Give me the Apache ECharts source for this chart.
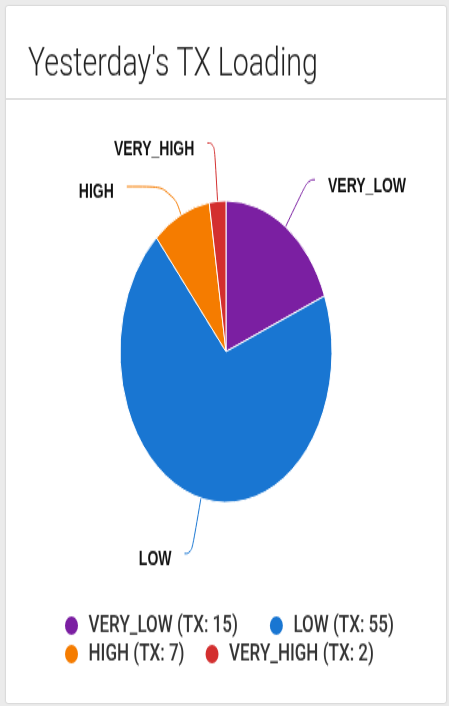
<!DOCTYPE html>
<html>
<head>
<meta charset="utf-8">
<script src="https://cdn.jsdelivr.net/npm/echarts@6/dist/echarts.min.js"></script>
<style>
  html, body { margin: 0; padding: 0; background: #ebebeb; }
  #page { position: relative; width: 449px; height: 706px; overflow: hidden; background: #ebebeb; }
  #card { position: absolute; left: 6px; top: 6px; width: 440px; height: 697px; background: #fff;
          border-radius: 2px; box-shadow: 0 0 2px rgba(0,0,0,0.25); }
  #sep { position: absolute; left: 6px; top: 98px; width: 440px; height: 2px; background: #e0e0e0; }
  #chart { position: absolute; left: 0; top: 0; width: 449px; height: 496px;
           transform: scaleY(1.4234); transform-origin: 0 0; }
</style>
</head>
<body>
<div id="page">
  <div id="card"></div>
  <div id="sep"></div>
  <div id="chart"></div>
</div>
<script>
const titleText = "Yesterday's TX Loading";
const categories = ['VERY_LOW', 'LOW', 'HIGH', 'VERY_HIGH'];
const txCounts = [15, 55, 7, 2];
const sliceColors = ['#7b1fa2', '#1976d2', '#f57c00', '#d32f2f'];

// per-label line styling (lengths only)
const labelLineLengths = {
  VERY_LOW: [40, 7],
  LOW: [40, 7],
  HIGH: [22, 45],
  VERY_HIGH: [41, 7]
};
// right padding after each legend entry (spacing only)
const legendPads = { VERY_LOW: 27, LOW: 0, HIGH: 16, VERY_HIGH: 0 };

const chart = echarts.init(document.getElementById('chart'), null, { renderer: 'canvas' });

const seriesData = categories.map((name, i) => ({
  name: name,
  value: txCounts[i],
  itemStyle: { color: sliceColors[i] },
  labelLine: { length: labelLineLengths[name][0], length2: labelLineLengths[name][1] }
}));

chart.setOption({
  animation: false,
  title: {
    text: titleText,
    left: 28,
    top: 31,
    padding: 0,
    textStyle: { fontFamily: 'Roboto', fontWeight: 300, fontSize: 28.5, color: '#212121' }
  },
  legend: {
    data: categories.map(name => ({ name: name, textStyle: { padding: [0, legendPads[name], 0, 0] } })),
    left: 63,
    top: 431,
    width: 380,
    padding: 0,
    icon: 'circle',
    itemWidth: 24,
    itemHeight: 15,
    itemGap: 3,
    formatter: function (name) {
      return name + ' (TX: ' + txCounts[categories.indexOf(name)] + ')';
    },
    textStyle: { fontFamily: 'Roboto', fontSize: 17, fontWeight: 500, color: '#333', lineHeight: 17 }
  },
  series: [{
    type: 'pie',
    center: [226, 247],
    radius: 106,
    startAngle: 90,
    clockwise: true,
    avoidLabelOverlap: false,
    itemStyle: { borderColor: '#fff', borderWidth: 1 },
    label: {
      show: true,
      position: 'outside',
      formatter: '{b}',
      fontFamily: 'Liberation Sans',
      fontWeight: 'bold',
      fontSize: 14,
      color: '#111',
      distanceToLabelLine: 13
    },
    labelLayout: { dy: 4.5 },
    labelLine: { show: true, smooth: 0.5, lineStyle: { width: 1 } },
    emphasis: { disabled: true },
    data: seriesData
  }]
});
</script>
</body>
</html>
